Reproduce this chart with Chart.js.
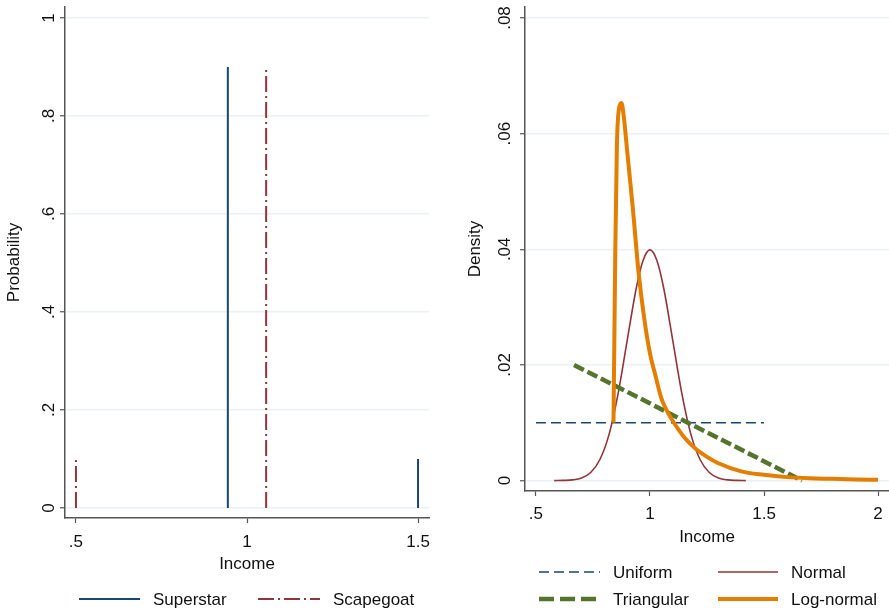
<!DOCTYPE html>
<html>
<head>
<meta charset="utf-8">
<script src="https://cdn.jsdelivr.net/npm/chart.js@4.4.1/dist/chart.umd.min.js"></script>
<style>
  body { margin: 0; background: #fff; }
  #wrap { position: relative; width: 889px; height: 612px; overflow: hidden; }
  #left { position: absolute; left: 0; top: 0; }
  #right { position: absolute; left: 445px; top: 0; }
  #legends { position: absolute; left: 0; top: 0; pointer-events: none; }
  #legends text { font-family: "Liberation Sans", Arial, sans-serif; font-size: 17px; fill: #111; }
</style>
</head>
<body>
<div id="wrap">
  <div id="left" style="width:445px;height:612px"><canvas id="leftChart"></canvas></div>
  <div id="right" style="width:444px;height:612px"><canvas id="rightChart"></canvas></div>
  <svg id="legends" width="889" height="612">
    <line x1="79" y1="599" x2="140" y2="599" stroke="#1a476f" stroke-width="2"/>
    <text x="153" y="605">Superstar</text>
    <line x1="258" y1="599" x2="320" y2="599" stroke="#90353b" stroke-width="2" stroke-dasharray="16 4 2 4"/>
    <text x="333" y="605">Scapegoat</text>

    <line x1="539" y1="572" x2="600" y2="572" stroke="#1a476f" stroke-width="1.6" stroke-dasharray="10 5"/>
    <text x="613" y="578">Uniform</text>
    <line x1="718" y1="572" x2="778" y2="572" stroke="#90353b" stroke-width="1.6"/>
    <text x="791" y="578">Normal</text>
    <line x1="539" y1="599" x2="600" y2="599" stroke="#55752f" stroke-width="4.5" stroke-dasharray="15 6"/>
    <text x="613" y="605">Triangular</text>
    <line x1="718" y1="599" x2="778" y2="599" stroke="#e37e00" stroke-width="4"/>
    <text x="791" y="605">Log-normal</text>
  </svg>
</div>
<script>
// left panel: two discrete distributions
const leftXTicks = [0.5, 1, 1.5];
const leftYTicks = [0, 0.2, 0.4, 0.6, 0.8, 1];
const superstarIncome = [0.944, 1.5];
const superstarProb = [0.9, 0.1];
const scapegoatIncome = [0.5, 1.056];
const scapegoatProb = [0.1, 0.9];

// right panel: four densities
const rightXTicks = [0.5, 1, 1.5, 2];
const rightYTicks = [0, 0.02, 0.04, 0.06, 0.08];
const uniformIncome = [0.5, 1.5];
const uniformDensity = [0.01, 0.01];
const normalIncome = [0.58, 0.62, 0.66, 0.7, 0.74, 0.78, 0.82, 0.86, 0.9, 0.94, 0.97, 1.0,
  1.03, 1.06, 1.1, 1.14, 1.18, 1.22, 1.26, 1.3, 1.34, 1.38, 1.42];
const normalDensity = [0, 0.00003, 0.00012, 0.00044, 0.0014, 0.0036, 0.0079, 0.015, 0.0242, 0.0333, 0.0381, 0.0399,
  0.0381, 0.0333, 0.0242, 0.015, 0.0079, 0.0036, 0.0014, 0.00044, 0.00012, 0.00003, 0];
const triangularIncome = [0.667, 1.667];
const triangularDensity = [0.02, 0];
const lognormalIncome = [0.84, 0.848, 0.855, 0.865, 0.875, 0.885, 0.9, 0.925, 0.95, 0.975, 1.0, 1.025, 1.05,
  1.075, 1.1, 1.15, 1.2, 1.25, 1.3, 1.4, 1.5, 1.6, 1.7, 1.8, 1.9, 2.0];
const lognormalDensity = [0.01, 0.04, 0.058, 0.0645, 0.0653, 0.063, 0.057, 0.047, 0.036, 0.028, 0.022, 0.018, 0.0142,
  0.012, 0.0103, 0.0075, 0.0055, 0.0041, 0.003, 0.0016, 0.001, 0.0006, 0.0004, 0.0003, 0.0002, 0.00015];

const navy = '#1a476f', maroon = '#90353b', green = '#55752f', orange = '#e37e00';
const axisColor = '#555', gridColor = '#eaf1f3';
const font = { family: '"Liberation Sans", Arial, sans-serif', size: 17 };

Chart.defaults.font = font;
Chart.defaults.color = '#111';

function pairs(xs, ys) {
  return xs.map((x, i) => ({ x: x, y: ys[i] }));
}

// each spike goes from 0 up to its probability, broken by a null point
function spikes(xs, ys) {
  let out = [];
  for (let i = 0; i < xs.length; i++) {
    out.push({ x: xs[i], y: 0 }, { x: xs[i], y: ys[i] }, { x: xs[i], y: null });
  }
  return out;
}

function noLeadingZero(v) {
  if (v === 0) return '0';
  let s = String(Math.round(v * 1000) / 1000);
  return s.replace(/^0\./, '.');
}

function axes(xTicks, yTicks, xMin, xMax, yMin, yMax, yTitle, yWidth, xHeight, yTitlePad, yTickPad, xTitlePad, xTickPad) {
  return {
    x: {
      type: 'linear', min: xMin, max: xMax,
      afterBuildTicks: s => { s.ticks = xTicks.map(v => ({ value: v })); },
      afterFit: s => { s.height = xHeight; s.paddingLeft = 0; s.paddingRight = 0; },
      ticks: { callback: noLeadingZero, padding: xTickPad, maxRotation: 0, color: '#111' },
      grid: { drawOnChartArea: false, tickLength: 5, tickColor: axisColor, tickWidth: 1.2 },
      border: { color: axisColor, width: 1.5 },
      title: { display: true, text: 'Income', padding: { top: 0, bottom: xTitlePad }, color: '#111' }
    },
    y: {
      type: 'linear', min: yMin, max: yMax,
      afterBuildTicks: s => { s.ticks = yTicks.map(v => ({ value: v })); },
      afterFit: s => { s.width = yWidth; s.paddingTop = 0; s.paddingBottom = 0; },
      ticks: { callback: noLeadingZero, padding: yTickPad, minRotation: 90, maxRotation: 90, crossAlign: 'center', color: '#111' },
      grid: { color: gridColor, lineWidth: 1.5, tickLength: 5, tickColor: axisColor, tickWidth: 1.2 },
      border: { color: axisColor, width: 1.5 },
      title: { display: true, text: yTitle, padding: { top: yTitlePad, bottom: 0 }, color: '#111' }
    }
  };
}

new Chart(document.getElementById('leftChart'), {
  type: 'scatter',
  data: {
    datasets: [
      { label: 'Superstar', data: spikes(superstarIncome, superstarProb), showLine: true, spanGaps: false,
        borderColor: navy, borderWidth: 2, pointRadius: 0 },
      { label: 'Scapegoat', data: spikes(scapegoatIncome, scapegoatProb), showLine: true, spanGaps: false,
        borderColor: maroon, borderWidth: 2, borderDash: [16, 4, 2, 4], pointRadius: 0 }
    ]
  },
  options: {
    responsive: true, maintainAspectRatio: false, animation: false,
    layout: { padding: { left: 0, top: 7, right: 16, bottom: 0 } },
    plugins: { legend: { display: false }, tooltip: { enabled: false } },
    scales: axes(leftXTicks, leftYTicks, 0.468, 1.532, -0.0204, 1.0224, 'Probability', 65, 94, 4, 4, 37, 9)
  }
});

new Chart(document.getElementById('rightChart'), {
  type: 'scatter',
  data: {
    datasets: [
      { label: 'Log-normal', data: pairs(lognormalIncome, lognormalDensity), showLine: true,
        borderColor: orange, borderWidth: 4, pointRadius: 0, cubicInterpolationMode: 'monotone' },
      { label: 'Triangular', data: pairs(triangularIncome, triangularDensity), showLine: true,
        borderColor: green, borderWidth: 4.5, borderDash: [11, 4], pointRadius: 0 },
      { label: 'Normal', data: pairs(normalIncome, normalDensity), showLine: true,
        borderColor: maroon, borderWidth: 1.6, pointRadius: 0, cubicInterpolationMode: 'monotone' },
      { label: 'Uniform', data: pairs(uniformIncome, uniformDensity), showLine: true,
        borderColor: navy, borderWidth: 1.6, borderDash: [10, 5], pointRadius: 0 }
    ]
  },
  options: {
    responsive: true, maintainAspectRatio: false, animation: false,
    layout: { padding: { left: 16, top: 7, right: 0, bottom: 0 } },
    plugins: { legend: { display: false }, tooltip: { enabled: false } },
    scales: axes(rightXTicks, rightYTicks, 0.452, 2.048, -0.0018, 0.0819, 'Density', 64, 121, 4, 3, 64, 8)
  }
});
</script>
</body>
</html>
